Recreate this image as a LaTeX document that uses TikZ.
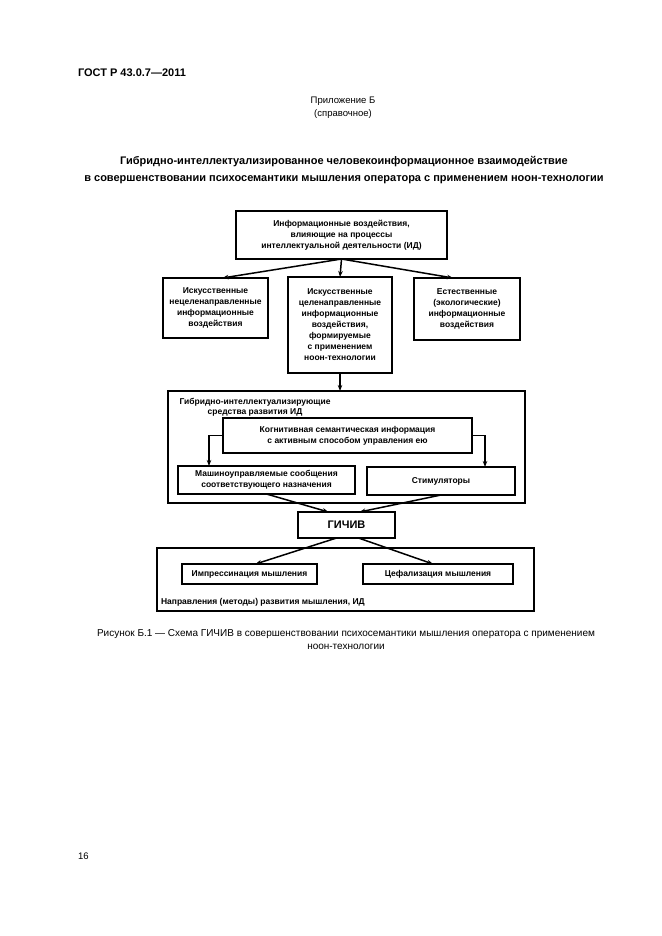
\documentclass[tikz,border=0pt]{standalone}
\usepackage{fontspec}
\setmainfont{Liberation Sans}
\usetikzlibrary{arrows.meta,calc}

\begin{document}
\begin{tikzpicture}[x=1pt, y=-1pt,
  every node/.style={inner sep=0pt, outer sep=0pt, align=center},
  box/.style={draw, line width=2.6pt, font=\bfseries\fontsize{8.5}{11}\selectfont},
  frame/.style={draw, line width=1.6pt},
  arr/.style={-{Stealth[length=6pt,width=4.5pt]}, line width=1.5pt}]
\useasboundingbox (0,0) rectangle (661,936);

\node[anchor=west, font=\bfseries\fontsize{11}{13}\selectfont] (gost) at (78,73) {ГОСТ Р 43.0.7—2011};
\node[font=\fontsize{9.5}{13}\selectfont] (annex) at (343,107.5) {Приложение Б\\(справочное)};
\node[font=\bfseries\fontsize{11}{17}\selectfont] (title) at (344,170.5) {Гибридно-интеллектуализированное человекоинформационное взаимодействие\\в совершенствовании психосемантики мышления оператора с применением ноон-технологии};

\node[box, minimum width=211pt, minimum height=48pt] (infl) at (341.5,235) {Информационные воздействия,\\влияющие на процессы\\интеллектуальной деятельности (ИД)};
\node[box, minimum width=105pt, minimum height=60pt] (artnon) at (215.5,308) {Искусственные\\нецеленаправленные\\информационные\\воздействия};
\node[box, minimum width=104pt, minimum height=96pt] (artdir) at (340,325) {Искусственные\\целенаправленные\\информационные\\воздействия,\\формируемые\\с применением\\ноон-технологии};
\node[box, minimum width=106pt, minimum height=62pt] (natural) at (467,309) {Естественные\\(экологические)\\информационные\\воздействия};

\node[frame, minimum width=357pt, minimum height=112pt] (means) at (346.5,447) {};
\node[font=\bfseries\fontsize{8.5}{10}\selectfont] (meanslbl) at (255,407) {Гибридно-интеллектуализирующие\\средства развития ИД};
\node[box, minimum width=249pt, minimum height=35pt] (cogn) at (347.5,435.5) {Когнитивная семантическая информация\\с активным способом управления ею};
\node[box, minimum width=177pt, minimum height=28pt] (machine) at (266.5,480) {Машиноуправляемые сообщения\\соответствующего назначения};
\node[box, minimum width=148pt, minimum height=28pt] (stim) at (441,481) {Стимуляторы};

\node[box, minimum width=97pt, minimum height=26pt, font=\bfseries\fontsize{11}{13}\selectfont] (gichiv) at (346.5,525) {ГИЧИВ};

\node[frame, minimum width=377pt, minimum height=63pt] (ways) at (345.5,579.5) {};
\node[box, minimum width=135pt, minimum height=20pt] (impr) at (249.5,574) {Импрессинация мышления};
\node[box, minimum width=150pt, minimum height=20pt] (ceph) at (438,574) {Цефализация мышления};
\node[anchor=west, font=\bfseries\fontsize{8.5}{10}\selectfont] (wayslbl) at (161,602) {Направления (методы) развития мышления, ИД};

\node[font=\fontsize{10}{13}\selectfont] (caption) at (346,639.5) {Рисунок Б.1 — Схема ГИЧИВ в совершенствовании психосемантики мышления оператора с применением\\ноон-технологии};
\node[anchor=west, font=\fontsize{9.5}{11}\selectfont] (page) at (78,856) {16};

\draw[arr] (infl.south) -- ($(artnon.north)+(7,0)$);
\draw[arr] (infl.south) -- (artdir.north);
\draw[arr] (infl.south) -- ($(natural.north)+(-14,0)$);
\draw[arr] (artdir.south) -- (artdir.south |- means.north);
\draw[arr] (cogn.west) -| ($(machine.north west)+(31,0)$);
\draw[arr] (cogn.east) -| ($(stim.north east)+(-30,0)$);
\draw[arr] (machine.south) -- ($(gichiv.north)+(-18,0)$);
\draw[arr] (stim.south) -- ($(gichiv.north)+(13,0)$);
\draw[arr] ($(gichiv.south)+(-10,0)$) -- ($(impr.north)+(6,0)$);
\draw[arr] ($(gichiv.south)+(12,0)$) -- ($(ceph.north)+(-5,0)$);
\end{tikzpicture}
\end{document}
